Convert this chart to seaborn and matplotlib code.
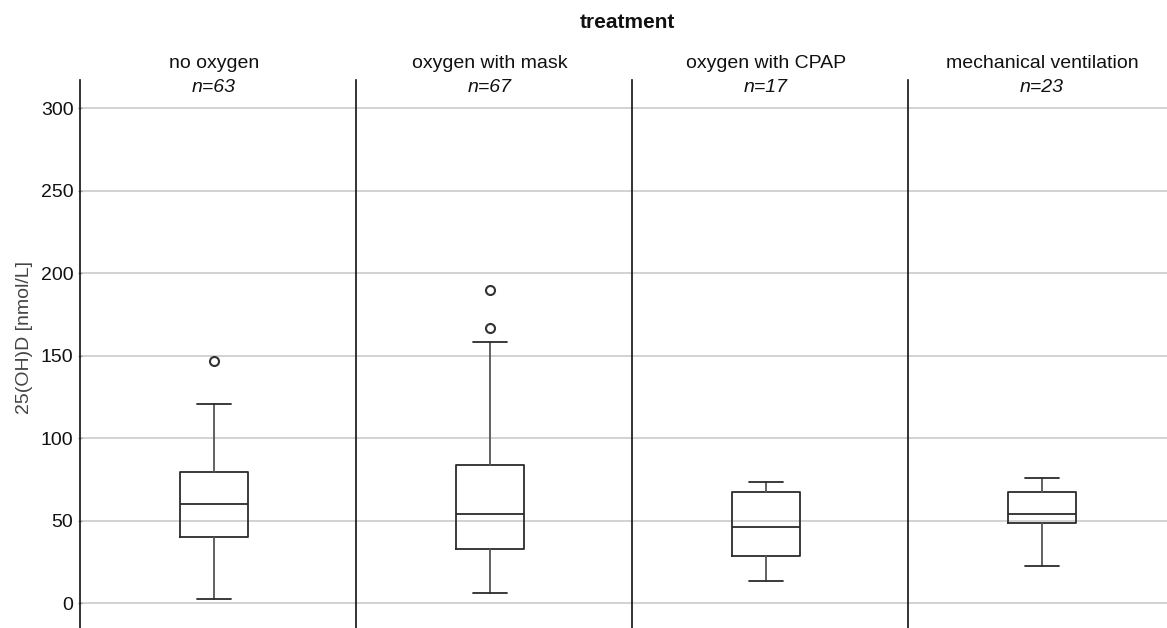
import pandas as pd
import seaborn as sns
from matplotlib import pyplot as plt

# summary values (nmol/L)
treatments = ["no oxygen", "oxygen with mask", "oxygen with CPAP", "mechanical ventilation"]
n_counts = [63, 67, 17, 23]
whisker_low = [2.6, 6.3, 13.7, 22.6]
q1 = [40.0, 33.0, 28.5, 48.7]
median = [60.0, 54.3, 46.3, 54.0]
q3 = [79.6, 83.6, 67.5, 67.5]
whisker_high = [121.0, 158.4, 73.3, 75.6]
outliers = [[146.7], [166.7, 189.7], [], []]
y_ticks = [0, 50, 100, 150, 200, 250, 300]

df = pd.DataFrame({"treatment": treatments, "n": n_counts, "whislo": whisker_low, "q1": q1,
                   "med": median, "q3": q3, "whishi": whisker_high, "fliers": outliers})

sns.set_theme(style="white")
plt.rcParams["font.family"] = ["Liberation Sans", "DejaVu Sans"]

BOX_POS = 0.0


def draw_box(data, **kwargs):
    ax = plt.gca()
    row = data.iloc[0]
    stats = [{"med": row["med"], "q1": row["q1"], "q3": row["q3"],
              "whislo": row["whislo"], "whishi": row["whishi"], "fliers": row["fliers"]}]
    ax.bxp(stats, positions=[BOX_POS], widths=0.246, capwidths=0.123, manage_ticks=False,
           boxprops=dict(color="#2b2b2b", lw=1.3),
           medianprops=dict(color="#2b2b2b", lw=1.3),
           whiskerprops=dict(color="#555555", lw=1.3),
           capprops=dict(color="#2b2b2b", lw=1.3),
           flierprops=dict(marker="o", markerfacecolor="white", markeredgecolor="#333333",
                           markersize=6.5, markeredgewidth=1.5))
    ax.annotate(row["treatment"], xy=(BOX_POS, 1.031), xycoords=("data", "axes fraction"),
                ha="center", va="center", fontsize=14, color="#111111", annotation_clip=False)
    ax.annotate("n=%d" % row["n"], xy=(BOX_POS, 0.987), xycoords=("data", "axes fraction"),
                ha="center", va="center", fontsize=14, style="italic", color="#111111",
                annotation_clip=False)


g = sns.FacetGrid(df, col="treatment", col_order=treatments, sharey=True, despine=False)
g.map_dataframe(draw_box)
g.set_titles("")
g.figure.set_size_inches(11.67, 6.28)
g.figure.subplots_adjust(left=80 / 1167, right=1184 / 1167, top=1 - 80 / 628, bottom=0.0, wspace=0.0)

for i, ax in enumerate(g.axes.flat):
    ax.set_xlim(-0.485, 0.515)
    ax.set_ylim(-15, 317)
    ax.set_yticks(y_ticks)
    ax.set_xticks([])
    ax.set_xlabel("")
    ax.set_ylabel("")
    ax.set_axisbelow(True)
    ax.yaxis.grid(True, color="#c6c6c6", lw=1.1)
    ax.xaxis.grid(False)
    for side in ["top", "right", "bottom"]:
        ax.spines[side].set_visible(False)
    ax.spines["left"].set_color("#111111")
    ax.spines["left"].set_linewidth(1.2)
    if i == 0:
        ax.tick_params(axis="y", left=True, direction="inout", length=3.5, width=1,
                       color="#999999", labelsize=14, labelcolor="#111111", pad=3)
        ax.set_ylabel("25(OH)D [nmol/L]", fontsize=14, color="#444444")
        ax.yaxis.set_label_coords(-0.172, 0.531)
    else:
        ax.tick_params(axis="y", left=False, labelleft=False)

g.figure.text(627 / 1167, 1 - 22 / 628, "treatment", ha="center", va="center",
              fontsize=15, fontweight="bold", color="#111111")

g.figure.savefig("out.png", dpi=100)
